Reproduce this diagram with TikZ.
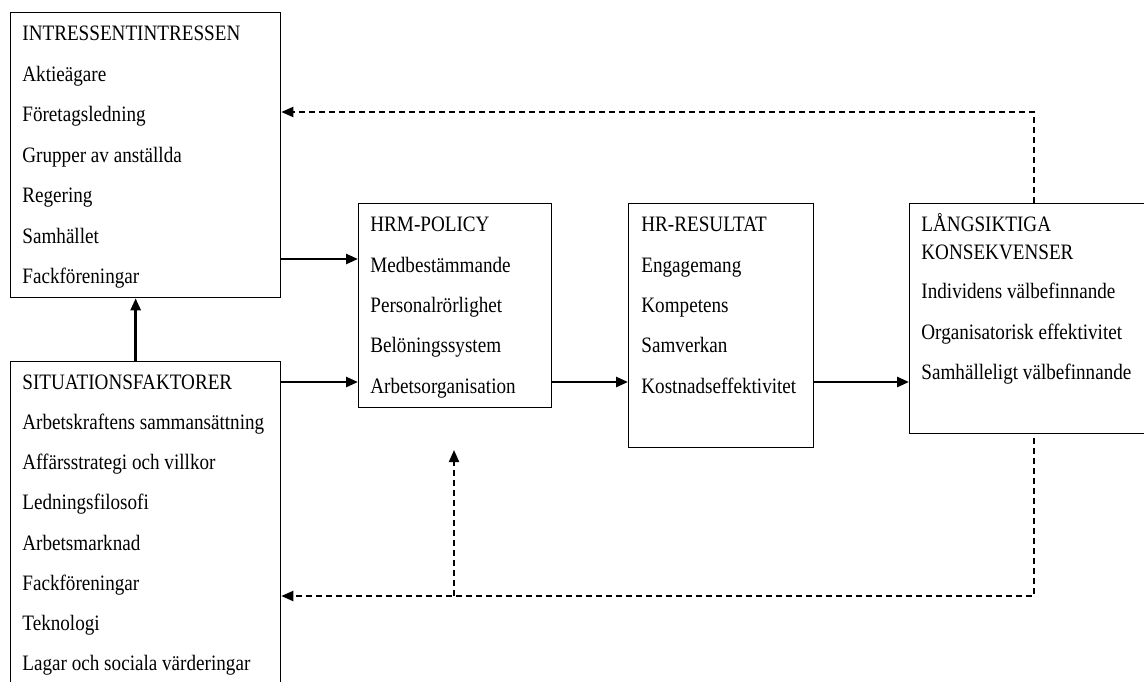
\documentclass[tikz,border=0pt]{standalone}
\usepackage{fontspec}
\setmainfont{Liberation Serif}[FakeStretch=0.87]
\usetikzlibrary{arrows.meta}
\tikzset{
  box/.style={draw, line width=0.65pt, anchor=north west, inner sep=0pt},
  item/.style={anchor=base west, inner sep=0pt, font=\fontsize{11}{14}\selectfont},
  flow/.style={line width=1.3pt, -{Triangle[length=6pt,width=5pt]}},
  back/.style={flow, line width=1pt, dash pattern=on 3pt off 2pt},
}
\begin{document}
\begin{tikzpicture}[x=0.5pt, y=-0.5pt, line join=miter]
	\useasboundingbox (0,0) rectangle (1144,681);
	% rutor
	\node[box, minimum width=135pt, minimum height=142.5pt] (intr) at (10,12) {};
	\node[box, minimum width=135pt, minimum height=180pt] (sit) at (10,361) {};
	\node[box, minimum width=96.5pt, minimum height=102pt] (hrm) at (358,203) {};
	\node[box, minimum width=92.5pt, minimum height=122pt] (hrr) at (628,203) {};
	\node[box, minimum width=130.5pt, minimum height=115pt] (lang) at (909,203) {};
	% texter
	\foreach \t [count=\i from 0] in {INTRESSENTINTRESSEN, Aktieägare, Företagsledning, Grupper av anställda, Regering, Samhället, Fackföreningar}
	\node[item] (in\i) at (22,{40.7+40.5*\i}) {\t};
	\foreach \t [count=\i from 0] in {SITUATIONSFAKTORER, Arbetskraftens sammansättning, Affärsstrategi och villkor, Ledningsfilosofi, Arbetsmarknad, Fackföreningar, Teknologi, Lagar och sociala värderingar}
	\node[item] (si\i) at (22,{389.3+40.2*\i}) {\t};
	\foreach \t [count=\i from 0] in {HRM-POLICY, Medbestämmande, Personalrörlighet, Belöningssystem, Arbetsorganisation}
	\node[item] (hp\i) at (370,{231.7+40.4*\i}) {\t};
	\foreach \t [count=\i from 0] in {HR-RESULTAT, Engagemang, Kompetens, Samverkan, Kostnadseffektivitet}
	\node[item] (hr\i) at (641,{231.7+40.4*\i}) {\t};
	\foreach \t/\y [count=\i from 0] in {LÅNGSIKTIGA/231.7, KONSEKVENSER/259, Individens välbefinnande/298.5, Organisatorisk effektivitet/339, Samhälleligt välbefinnande/379.4}
	\node[item] (ln\i) at (921,\y) {\t};
	% pilar
	\coordinate (r1) at (0,259);
	\coordinate (r2) at (0,382);
	\coordinate (fb1) at (1034,112);
	\coordinate (fb2) at (1034,596);
	\coordinate (fb3) at (454,450);
	\draw[flow] ([xshift=-5pt]sit.north) -- ([xshift=-5pt]intr.south);
	\draw[flow] (intr.east |- r1) -- (hrm.west |- r1);
	\draw[flow] (sit.east |- r2) -- (hrm.west |- r2);
	\draw[flow] (hrm.east |- r2) -- (hrr.west |- r2);
	\draw[flow] (hrr.east |- r2) -- (lang.west |- r2);
	\draw[back] (lang.north -| fb1) |- (intr.east |- fb1);
	\draw[back] ([yshift=-2pt]lang.south -| fb2) |- (sit.east |- fb2);
	\draw[back] (fb3 |- fb2) -- (fb3);
\end{tikzpicture}
\end{document}
